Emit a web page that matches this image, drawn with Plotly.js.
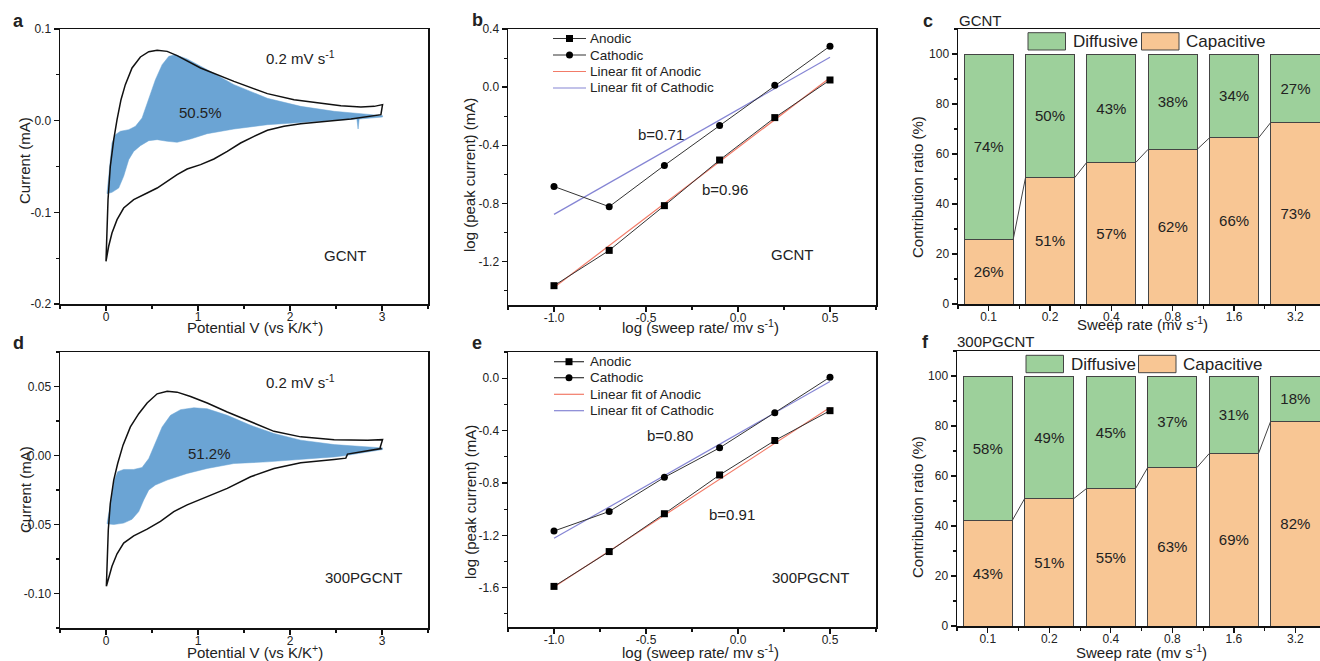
<!DOCTYPE html>
<html>
<head>
<meta charset="utf-8">
<script src="https://cdn.plot.ly/plotly-3.0.1.min.js"></script>
<style>html,body{margin:0;padding:0;background:#fff;}#chart{width:1320px;height:661px;}</style>
</head>
<body>
<div id="chart"></div>
<script>
// ---------- DATA ----------
// Panel a: CV loop (GCNT) and capacitive region
const cvA_x = [0.00,0.007,0.022,0.047,0.084,0.120,0.163,0.210,0.283,0.374,0.465,0.556,0.665,0.773,1.028,1.391,1.754,2.044,2.298,2.553,2.771,2.916,3.006,2.988,2.662,2.480,2.117,1.935,1.754,1.609,1.463,1.318,1.173,1.028,0.882,0.773,0.665,0.556,0.447,0.301,0.192,0.120,0.065,0.029,0.00];
const cvA_y = [-0.1535,-0.1225,-0.0862,-0.0498,-0.0207,0.0011,0.0229,0.0393,0.0575,0.0695,0.0753,0.0767,0.0756,0.0709,0.0575,0.0429,0.0295,0.0229,0.0193,0.0164,0.0149,0.0156,0.0175,0.0065,0.0018,0.0,-0.0033,-0.0062,-0.0105,-0.0171,-0.0244,-0.0335,-0.0418,-0.048,-0.0527,-0.0589,-0.0662,-0.0735,-0.0789,-0.0862,-0.0953,-0.108,-0.1225,-0.137,-0.1535];
const capA_x = [0.011,0.04,0.065,0.102,0.156,0.247,0.32,0.392,0.465,0.537,0.61,0.683,0.755,0.882,1.1,1.391,1.754,2.117,2.48,2.843,3.006,3.006,2.752,2.740,2.727,2.48,2.117,1.754,1.391,1.1,0.919,0.773,0.665,0.556,0.465,0.374,0.301,0.247,0.192,0.138,0.065,0.011];
const capA_y = [-0.0796,-0.0498,-0.0244,-0.0153,-0.0116,-0.0098,-0.0062,0.0029,0.0229,0.0447,0.0611,0.0702,0.072,0.0673,0.0556,0.0393,0.0244,0.0156,0.0102,0.0073,0.0055,0.004,0.0018,-0.0091,0.0018,0.0004,-0.0018,-0.0044,-0.0091,-0.0142,-0.02,-0.0236,-0.0225,-0.0207,-0.0218,-0.0273,-0.0335,-0.0425,-0.0607,-0.0735,-0.0782,-0.0796];
// Panel d: CV loop (300PGCNT) and capacitive region
const cvD_x = [0.004,0.011,0.025,0.047,0.084,0.127,0.185,0.265,0.356,0.447,0.556,0.665,0.773,0.919,1.1,1.318,1.572,1.826,2.117,2.48,2.843,3.006,2.98,2.988,2.625,2.607,2.48,2.117,1.826,1.572,1.318,1.1,0.882,0.737,0.592,0.447,0.301,0.192,0.12,0.065,0.004];
const cvD_y = [-0.0947,-0.0779,-0.0538,-0.0346,-0.0178,-0.0058,0.0075,0.0207,0.0303,0.038,0.0447,0.0466,0.0459,0.0428,0.038,0.0315,0.0243,0.0175,0.0135,0.0115,0.0111,0.0115,0.0058,0.005,0.001,-0.0019,-0.0029,-0.0053,-0.0094,-0.0154,-0.0238,-0.0298,-0.0358,-0.0406,-0.0478,-0.0534,-0.0582,-0.0635,-0.0712,-0.0803,-0.0947];
const capD_x = [0.011,0.047,0.091,0.127,0.192,0.301,0.392,0.465,0.537,0.61,0.701,0.81,0.955,1.1,1.318,1.572,1.826,2.117,2.48,2.843,3.006,3.006,2.843,2.607,2.48,2.117,1.754,1.391,1.1,0.882,0.665,0.537,0.465,0.41,0.356,0.283,0.192,0.084,0.011];
const capD_y = [-0.0495,-0.0346,-0.0178,-0.0118,-0.0101,-0.0101,-0.0087,-0.0022,0.0087,0.0207,0.0291,0.0332,0.0346,0.0339,0.0291,0.0219,0.0159,0.0111,0.0079,0.0063,0.0055,0.0043,0.0024,0.0,-0.001,-0.0029,-0.0046,-0.0058,-0.0094,-0.013,-0.0178,-0.0214,-0.025,-0.0322,-0.0406,-0.0462,-0.049,-0.05,-0.0495];

// Panels b, e: log(sweep rate) vs log(peak current)
const logRate = [-1.0,-0.7,-0.4,-0.1,0.2,0.5];
const anodicB   = [-1.367,-1.124,-0.816,-0.502,-0.210,0.049];
const cathodicB = [-0.684,-0.823,-0.539,-0.264,0.012,0.282];
const fitX = [-1.0, 0.5];
const fitAnodicB   = [-1.38, 0.065];
const fitCathodicB = [-0.876, 0.206];
const anodicE   = [-1.590,-1.324,-1.035,-0.739,-0.476,-0.248];
const cathodicE = [-1.167,-1.018,-0.757,-0.532,-0.263,0.008];
const fitAnodicE   = [-1.595,-0.223];
const fitCathodicE = [-1.223,-0.025];

// Panels c, f: contribution ratio
const sweepRates = ['0.1','0.2','0.4','0.8','1.6','3.2'];
const capC  = [25.9,50.5,56.7,61.9,66.5,72.7];
const diffC = [74.1,49.5,43.3,38.1,33.5,27.3];
const capCLabels  = [26,51,57,62,66,73];
const diffCLabels = [74,50,43,38,34,27];
const capF  = [42.3,51.0,54.9,63.4,69.0,82.0];
const diffF = [57.7,49.0,45.1,36.6,31.0,18.0];
const capFLabels  = [43,51,55,63,69,82];
const diffFLabels = [58,49,45,37,31,18];

// Tick labels
const cvXTicks = [0,1,2,3];
const cvXText = ['0','1','2','3'];
const aYTicks = [-0.2,-0.1,0,0.1];
const aYText = ['-0.2','-0.1','0.0','0.1'];
const dYTicks = [-0.1,-0.05,0,0.05];
const dYText = ['-0.10','-0.05','0.00','0.05'];
const logXTicks = [-1,-0.5,0,0.5];
const logXText = ['-1.0','-0.5','0.0','0.5'];
const bYTicks = [-1.2,-0.8,-0.4,0,0.4];
const bYText = ['-1.2','-0.8','-0.4','0.0','0.4'];
const eYTicks = [-1.6,-1.2,-0.8,-0.4,0];
const eYText = ['-1.6','-1.2','-0.8','-0.4','0.0'];
const ratioTicks = [0,20,40,60,80,100];
const ratioText = ['0','20','40','60','80','100'];

// ---------- STYLE ----------
const W = 1320, H = 661;
const FONT = "Arial, 'Liberation Sans', sans-serif";
const INK = '#222';
const GREEN = '#9dd09b', ORANGE = '#f8c694', BLUE_FILL = '#6ba4d4';
const RED_FIT = '#f27b68', BLUE_FIT = '#8585d4';
const PX = x => x / W;
const PY = y => 1 - y / H;

// plot-area boxes in px: [left, right, top, bottom]
const boxes = {
  a: [60, 428, 29, 304], b: [508, 876, 29, 305], c: [958, 1320, 29, 304],
  d: [60, 428, 352, 628], e: [508, 876, 352, 627], f: [957, 1320, 351, 626]
};

function axis(domain, range, tickvals, ticktext, minor, anchor, isX) {
  return {
    domain: domain, range: range, anchor: anchor,
    tickmode: 'array', tickvals: tickvals, ticktext: ticktext,
    showline: true, linecolor: '#111', linewidth: 1.5, mirror: true,
    ticks: 'outside', ticklen: 5, tickwidth: 1.3, tickcolor: '#111',
    ticklabelstandoff: isX ? -4 : 0,
    minor: Object.assign({ticks: 'outside', ticklen: 3, tickwidth: 1.1, tickcolor: '#111', showgrid: false}, minor),
    showgrid: false, zeroline: false, fixedrange: true,
    tickfont: {family: FONT, size: 12, color: INK}
  };
}
function xdom(k) { return [PX(boxes[k][0]), Math.min(1, PX(boxes[k][1]))]; }
function ydom(k) { return [PY(boxes[k][3]), PY(boxes[k][2])]; }

const traces = [];
// Panel a
traces.push({x: capA_x, y: capA_y, xaxis: 'x', yaxis: 'y', mode: 'lines', fill: 'toself', fillcolor: BLUE_FILL, line: {color: BLUE_FILL, width: 0.5}, hoverinfo: 'skip'});
traces.push({x: cvA_x, y: cvA_y, xaxis: 'x', yaxis: 'y', mode: 'lines', line: {color: '#111', width: 1.5}, hoverinfo: 'skip'});
// Panel d
traces.push({x: capD_x, y: capD_y, xaxis: 'x4', yaxis: 'y4', mode: 'lines', fill: 'toself', fillcolor: BLUE_FILL, line: {color: BLUE_FILL, width: 0.5}, hoverinfo: 'skip'});
traces.push({x: cvD_x, y: cvD_y, xaxis: 'x4', yaxis: 'y4', mode: 'lines', line: {color: '#111', width: 1.5}, hoverinfo: 'skip'});

// Panels b, e
function logPanel(xa, ya, an, ca, fa, fc) {
  traces.push({x: fitX, y: fa, xaxis: xa, yaxis: ya, mode: 'lines', line: {color: RED_FIT, width: 1.2}, hoverinfo: 'skip'});
  traces.push({x: fitX, y: fc, xaxis: xa, yaxis: ya, mode: 'lines', line: {color: BLUE_FIT, width: 1.2}, hoverinfo: 'skip'});
  traces.push({x: logRate, y: an, xaxis: xa, yaxis: ya, mode: 'lines+markers', line: {color: '#333', width: 1}, marker: {symbol: 'square', size: 7, color: '#000'}, hoverinfo: 'skip'});
  traces.push({x: logRate, y: ca, xaxis: xa, yaxis: ya, mode: 'lines+markers', line: {color: '#333', width: 1}, marker: {symbol: 'circle', size: 7, color: '#000'}, hoverinfo: 'skip'});
}
logPanel('x2', 'y2', anodicB, cathodicB, fitAnodicB, fitCathodicB);
logPanel('x5', 'y5', anodicE, cathodicE, fitAnodicE, fitCathodicE);

// Panels c, f
const BW = 0.8;
function ratioPanel(xa, ya, cap, diff, capL, diffL) {
  const xi = sweepRates.map((_, i) => i);
  const common = {type: 'bar', xaxis: xa, yaxis: ya, width: BW, textposition: 'inside', insidetextanchor: 'middle', textangle: 0,
    textfont: {family: FONT, size: 15, color: INK}, hoverinfo: 'skip'};
  traces.push(Object.assign({}, common, {x: xi, y: cap, text: capL.map(v => v + '%'), marker: {color: ORANGE, line: {color: '#444', width: 1}}}));
  traces.push(Object.assign({}, common, {x: xi, y: diff, text: diffL.map(v => v + '%'), marker: {color: GREEN, line: {color: '#444', width: 1}}}));
  const lx = [], ly = [];
  for (let i = 0; i < cap.length - 1; i++) {
    lx.push(i + BW / 2, i + 1 - BW / 2, null);
    ly.push(cap[i], cap[i + 1], null);
  }
  traces.push({x: lx, y: ly, xaxis: xa, yaxis: ya, mode: 'lines', line: {color: '#444', width: 1}, hoverinfo: 'skip'});
}
ratioPanel('x3', 'y3', capC, diffC, capCLabels, diffCLabels);
ratioPanel('x6', 'y6', capF, diffF, capFLabels, diffFLabels);

// ---------- LAYOUT ----------
const annotations = [];
function ann(text, x, y, o) {
  o = o || {};
  annotations.push({xref: 'paper', yref: 'paper', x: PX(x), y: PY(y), text: text, showarrow: false,
    xanchor: o.xa || 'center', yanchor: 'middle', textangle: o.angle || 0,
    font: {family: FONT, size: o.size || 15, color: INK, weight: o.weight || 'normal'}});
}
// panel letters
ann('a', 18, 21, {size: 18, weight: 'bold'});
ann('b', 477, 20, {size: 18, weight: 'bold'});
ann('c', 928, 21, {size: 18, weight: 'bold'});
ann('d', 18, 343, {size: 18, weight: 'bold'});
ann('e', 477, 343, {size: 18, weight: 'bold'});
ann('f', 925, 342, {size: 18, weight: 'bold'});
ann('GCNT', 957, 21, {xa: 'left', size: 15});
ann('300PGCNT', 955, 342, {xa: 'left', size: 15});
// axis titles
ann('Current (mA)', 25, 161, {angle: -90});
ann('Current (mA)', 25, 490, {angle: -90});
ann('Potential V (vs K/K<sup>+</sup>)', 255, 327);
ann('Potential V (vs K/K<sup>+</sup>)', 255, 651);
ann('log (peak current) (mA)', 470, 175, {angle: -90});
ann('log (peak current) (mA)', 470, 502, {angle: -90});
ann('log (sweep rate/ mv s<sup>-1</sup>)', 701, 327);
ann('log (sweep rate/ mv s<sup>-1</sup>)', 701, 651);
ann('Contribution ratio (%)', 917, 187, {angle: -90});
ann('Contribution ratio (%)', 917, 507, {angle: -90});
ann('Sweep rate (mv s<sup>-1</sup>)', 1142, 323);
ann('Sweep rate (mv s<sup>-1</sup>)', 1141, 651);
// in-plot texts
ann('0.2 mV s<sup>-1</sup>', 300, 58);
ann('50.5%', 200, 112);
ann('GCNT', 345, 255);
ann('0.2 mV s<sup>-1</sup>', 300, 381);
ann('51.2%', 209, 453);
ann('300PGCNT', 364, 577);
ann('b=0.71', 661, 134);
ann('b=0.96', 725, 190);
ann('GCNT', 793, 254);
ann('b=0.80', 670, 435);
ann('b=0.91', 732, 514);
ann('300PGCNT', 811, 577);

const shapes = [];
// manual legends for b and e
function lineLegend(x0, x1, ys, tx) {
  const names = ['Anodic', 'Cathodic', 'Linear fit of Anodic', 'Linear fit of Cathodic'];
  const cols = ['#333', '#333', RED_FIT, BLUE_FIT];
  const mid = (x0 + x1) / 2;
  ys.forEach((y, i) => {
    shapes.push({type: 'line', xref: 'paper', yref: 'paper', x0: PX(x0), x1: PX(x1), y0: PY(y), y1: PY(y), line: {color: cols[i], width: 1.2}});
    ann(names[i], tx, y, {xa: 'left', size: 13.5});
  });
  shapes.push({type: 'rect', xref: 'paper', yref: 'paper', x0: PX(mid - 3.5), x1: PX(mid + 3.5), y0: PY(ys[0] + 3.5), y1: PY(ys[0] - 3.5), fillcolor: '#000', line: {width: 0}});
  shapes.push({type: 'circle', xref: 'paper', yref: 'paper', x0: PX(mid - 3.5), x1: PX(mid + 3.5), y0: PY(ys[1] + 3.5), y1: PY(ys[1] - 3.5), fillcolor: '#000', line: {width: 0}});
}
lineLegend(553, 586, [38.5, 55, 71.5, 88], 588);
lineLegend(554, 584, [361.7, 377.7, 394.3, 410.7], 588);
// manual legends for c and f
function boxLegend(gx, ox, y0, y1, tgx, tox) {
  shapes.push({type: 'rect', xref: 'paper', yref: 'paper', x0: PX(gx), x1: PX(gx + 37.5), y0: PY(y1), y1: PY(y0), fillcolor: GREEN, line: {color: '#444', width: 1}});
  shapes.push({type: 'rect', xref: 'paper', yref: 'paper', x0: PX(ox), x1: PX(ox + 37.5), y0: PY(y1), y1: PY(y0), fillcolor: ORANGE, line: {color: '#444', width: 1}});
  ann('Diffusive', tgx, (y0 + y1) / 2, {xa: 'left', size: 17});
  ann('Capacitive', tox, (y0 + y1) / 2, {xa: 'left', size: 17});
}
boxLegend(1028, 1141.5, 32.7, 50, 1071, 1184);
boxLegend(1026, 1138.5, 355.3, 372.7, 1068.5, 1181);

const layout = {
  width: W, height: H,
  margin: {l: 0, r: 0, t: 0, b: 0},
  paper_bgcolor: '#fff', plot_bgcolor: '#fff',
  showlegend: false, barmode: 'stack',
  font: {family: FONT, color: INK},
  xaxis:  axis(xdom('a'), [-0.5, 3.5], cvXTicks, cvXText, {tick0: 0, dtick: 0.5}, 'y', true),
  yaxis:  axis(ydom('a'), [-0.2, 0.1], aYTicks, aYText, {tick0: 0, dtick: 0.05}, 'x'),
  xaxis2: axis(xdom('b'), [-1.25, 0.75], logXTicks, logXText, {tick0: 0, dtick: 0.25}, 'y2', true),
  yaxis2: axis(ydom('b'), [-1.5, 0.4], bYTicks, bYText, {tick0: 0, dtick: 0.2}, 'x2'),
  xaxis3: axis(xdom('c'), [-0.5, 5.4], sweepRates.map((_, i) => i), sweepRates, {tick0: 0.5, dtick: 1}, 'y3', true),
  yaxis3: axis(ydom('c'), [0, 110], ratioTicks, ratioText, {tick0: 0, dtick: 10}, 'x3'),
  xaxis4: axis(xdom('d'), [-0.5, 3.5], cvXTicks, cvXText, {tick0: 0, dtick: 0.5}, 'y4', true),
  yaxis4: axis(ydom('d'), [-0.125, 0.075], dYTicks, dYText, {tick0: 0, dtick: 0.025}, 'x4'),
  xaxis5: axis(xdom('e'), [-1.25, 0.75], logXTicks, logXText, {tick0: 0, dtick: 0.25}, 'y5', true),
  yaxis5: axis(ydom('e'), [-1.9, 0.2], eYTicks, eYText, {tick0: 0, dtick: 0.2}, 'x5'),
  xaxis6: axis(xdom('f'), [-0.5, 5.4], sweepRates.map((_, i) => i), sweepRates, {tick0: 0.5, dtick: 1}, 'y6', true),
  yaxis6: axis(ydom('f'), [0, 110], ratioTicks, ratioText, {tick0: 0, dtick: 10}, 'x6'),
  annotations: annotations,
  shapes: shapes
};

Plotly.newPlot('chart', traces, layout, {staticPlot: true, displayModeBar: false});
</script>
</body>
</html>
